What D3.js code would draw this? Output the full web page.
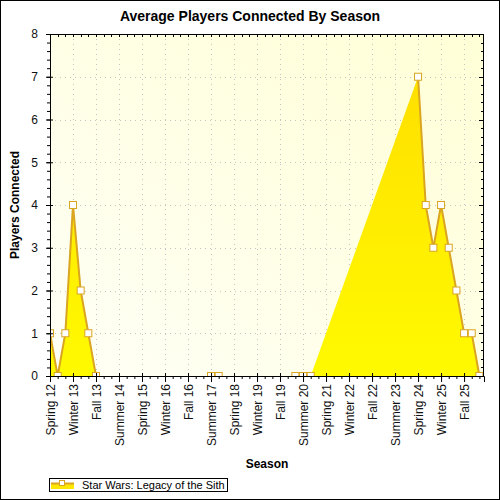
<!DOCTYPE html>
<html>
<head>
<meta charset="utf-8">
<script src="https://cdn.jsdelivr.net/npm/d3@7"></script>
<style>
  body { margin: 0; background: #fff; }
  svg { display: block; font-family: "Liberation Sans", Arial, sans-serif; }
</style>
</head>
<body>
<svg id="chart" width="500" height="500"></svg>
<script>
// Season categories (x axis)
const seasons = [
  "Spring 12", "Summer 12", "Fall 12", "Winter 13", "Spring 13", "Summer 13", "Fall 13",
  "Winter 14", "Spring 14", "Summer 14", "Fall 14", "Winter 15", "Spring 15", "Summer 15",
  "Fall 15", "Winter 16", "Spring 16", "Summer 16", "Fall 16", "Winter 17", "Spring 17",
  "Summer 17", "Fall 17", "Winter 18", "Spring 18", "Summer 18", "Fall 18", "Winter 19",
  "Spring 19", "Summer 19", "Fall 19", "Winter 20", "Spring 20", "Summer 20", "Fall 20",
  "Winter 21", "Spring 21", "Summer 21", "Fall 21", "Winter 22", "Spring 22", "Summer 22",
  "Fall 22", "Winter 23", "Spring 23", "Summer 23", "Fall 23", "Winter 24", "Spring 24",
  "Summer 24", "Fall 24", "Winter 25", "Spring 25", "Summer 25", "Fall 25", "Winter 26",
  "Spring 26"
];

// Average players per season (null = no data)
const players = [
  1, 0, 1, 4, 2, 1, 0,
  null, null, null, null, null, null, null,
  null, null, null, null, null, null, null,
  0, 0, null, null, null, null, null,
  null, null, null, null, 0, 0, 0,
  null, null, null, null, null, null, null,
  null, null, null, null, null, null, 7,
  4, 3, 4, 3, 2, 1, 1,
  0
];

const seriesName = "Star Wars: Legacy of the Sith";
const yTicks = [0, 1, 2, 3, 4, 5, 6, 7, 8];

const data = seasons.map((s, i) => ({ i: i, season: s, v: players[i] }));
const defined = data.filter(d => d.v != null);

const svg = d3.select("#chart");
const margin = { top: 34, right: 16, bottom: 124, left: 50 };
const width = 500 - margin.left - margin.right,
      height = 500 - margin.top - margin.bottom;

// outer border
svg.append("rect")
  .attr("x", 0.5).attr("y", 0.5).attr("width", 499).attr("height", 499)
  .attr("fill", "#fff").attr("stroke", "#000");

const defs = svg.append("defs");
const bg = defs.append("linearGradient").attr("id", "bgGrad")
  .attr("x1", 0).attr("y1", 1).attr("x2", 1).attr("y2", 0);
bg.append("stop").attr("offset", "0%").attr("stop-color", "#fffff6");
bg.append("stop").attr("offset", "100%").attr("stop-color", "#ffffd6");

const fillGrad = defs.append("linearGradient").attr("id", "areaGrad")
  .attr("gradientUnits", "userSpaceOnUse")
  .attr("x1", 0).attr("y1", 0).attr("x2", 0).attr("y2", height);
fillGrad.append("stop").attr("offset", "0%").attr("stop-color", "#ffdc00");
fillGrad.append("stop").attr("offset", "100%").attr("stop-color", "#fffa00");

defs.append("clipPath").attr("id", "plotClip")
  .append("rect").attr("width", width).attr("height", height);

const g = svg.append("g").attr("transform", `translate(${margin.left},${margin.top})`);

// Scales
const x = d3.scaleLinear().domain([0, 56.6]).range([0, width]);
const y = d3.scaleLinear().domain([0, 8]).range([height, 0]);

const majorIdx = d3.range(0, seasons.length, 3);
const allIdx = d3.range(0, seasons.length);
const minorY = d3.range(0, 8.01, 0.2).map(v => +v.toFixed(1));

// plot background
g.append("rect").attr("width", width).attr("height", height).attr("fill", "url(#bgGrad)");

// grid
g.append("g").selectAll("line")
  .data(majorIdx.slice(1))
  .enter().append("line")
  .attr("x1", d => Math.round(x(d)) + 0.5).attr("x2", d => Math.round(x(d)) + 0.5)
  .attr("y1", 0).attr("y2", height)
  .attr("stroke", "#c4c4c4").attr("stroke-dasharray", "1,4");

g.append("g").selectAll("line")
  .data(yTicks.slice(1, -1))
  .enter().append("line")
  .attr("x1", 0).attr("x2", width)
  .attr("y1", d => Math.round(y(d)) + 0.5).attr("y2", d => Math.round(y(d)) + 0.5)
  .attr("stroke", "#c4c4c4").attr("stroke-dasharray", "1,4");

// series
const plot = g.append("g").attr("clip-path", "url(#plotClip)");

const area = d3.area()
  .x(d => x(d.i))
  .y0(y(0))
  .y1(d => y(d.v));

plot.append("path")
  .datum(defined)
  .attr("d", area)
  .attr("fill", "url(#areaGrad)");

// line breaks where data is missing, the fill does not
const line = d3.line()
  .defined(d => d.v != null)
  .x(d => x(d.i))
  .y(d => y(d.v));

plot.append("path")
  .datum(data)
  .attr("d", line)
  .attr("fill", "none")
  .attr("stroke", "#daa520")
  .attr("stroke-width", 2);

plot.selectAll(".marker")
  .data(defined)
  .enter().append("rect")
  .attr("class", "marker")
  .attr("x", d => x(d.i) - 3.5)
  .attr("y", d => y(d.v) - 3.5)
  .attr("width", 7).attr("height", 7)
  .attr("fill", "#fff")
  .attr("stroke", "#daa520")
  .attr("stroke-width", 1);

// frame
g.append("rect")
  .attr("x", 0.5).attr("y", 0.5).attr("width", width - 1).attr("height", height)
  .attr("fill", "none").attr("stroke", "#000");

// top & right inner ticks
g.append("g").selectAll("line").data(allIdx).enter().append("line")
  .attr("x1", d => Math.round(x(d)) + 0.5).attr("x2", d => Math.round(x(d)) + 0.5)
  .attr("y1", 0).attr("y2", 3).attr("stroke", "#000");

g.append("g").selectAll("line").data(minorY).enter().append("line")
  .attr("x1", d => width - (Number.isInteger(d) ? 5 : 3))
  .attr("x2", width)
  .attr("y1", d => Math.round(y(d)) + 0.5).attr("y2", d => Math.round(y(d)) + 0.5)
  .attr("stroke", "#000");

// x axis: minor ticks
g.append("g")
  .attr("transform", `translate(0,${height})`)
  .call(d3.axisBottom(x).tickValues(allIdx).tickSize(3).tickFormat(""))
  .call(a => a.select(".domain").remove());

// x axis: major ticks and labels
const xAxis = g.append("g")
  .attr("transform", `translate(0,${height})`)
  .call(d3.axisBottom(x).tickValues(majorIdx).tickSize(6).tickFormat(i => seasons[i]));
xAxis.select(".domain").attr("stroke", "#000");
xAxis.selectAll(".tick line").attr("y1", -3);
xAxis.selectAll("text")
  .attr("y", 0).attr("x", -8).attr("dy", "0.35em")
  .attr("transform", "rotate(-90)")
  .style("text-anchor", "end")
  .style("font-size", "12px")
  .style("font-family", "'Liberation Sans', Arial, sans-serif")
  .style("fill", "#111");

// y axis: minor ticks
g.append("g")
  .call(d3.axisLeft(y).tickValues(minorY).tickSize(3).tickFormat(""))
  .call(a => a.select(".domain").remove());

// y axis: major ticks and labels
const yAxis = g.append("g")
  .call(d3.axisLeft(y).tickValues(yTicks).tickSize(4).tickPadding(8).tickFormat(d3.format("d")));
yAxis.select(".domain").attr("stroke", "#000");
yAxis.selectAll(".tick line").attr("x1", 3).attr("x2", -4);
yAxis.selectAll("text")
  .style("font-size", "12px")
  .style("font-family", "'Liberation Sans', Arial, sans-serif")
  .style("fill", "#111");

// titles
svg.append("text")
  .attr("x", 250).attr("y", 21)
  .attr("text-anchor", "middle")
  .style("font-size", "14px").style("font-weight", "bold")
  .text("Average Players Connected By Season");

svg.append("text")
  .attr("x", margin.left + width / 2).attr("y", 468)
  .attr("text-anchor", "middle")
  .style("font-size", "12px").style("font-weight", "bold")
  .text("Season");

svg.append("text")
  .attr("transform", `translate(19,${margin.top + height / 2}) rotate(-90)`)
  .attr("text-anchor", "middle")
  .style("font-size", "12px").style("font-weight", "bold")
  .text("Players Connected");

// legend
const legend = svg.append("g");
legend.append("rect")
  .attr("x", 49.5).attr("y", 478.5).attr("width", 178).attr("height", 13)
  .attr("fill", "#fff").attr("stroke", "#000");
legend.append("rect")
  .attr("x", 51).attr("y", 484).attr("width", 23).attr("height", 5)
  .attr("fill", "#ffe800");
legend.append("line")
  .attr("x1", 51).attr("x2", 74).attr("y1", 483.5).attr("y2", 483.5)
  .attr("stroke", "#daa520").attr("stroke-width", 2);
legend.append("rect")
  .attr("x", 59.5).attr("y", 480.5).attr("width", 5).attr("height", 5)
  .attr("fill", "#fff").attr("stroke", "#daa520");
legend.append("text")
  .attr("x", 82).attr("y", 488.5)
  .style("font-size", "11px")
  .text(seriesName);
</script>
</body>
</html>
